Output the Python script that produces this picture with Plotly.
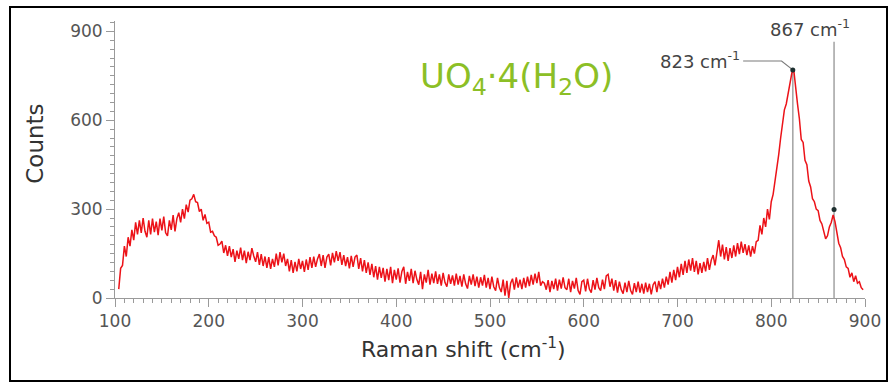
import numpy as np
import plotly.graph_objects as go

# Raman spectrum of UO4·4(H2O): wavenumber grid (cm-1) and counts
shift_start, shift_step = 104, 2
counts = [
    30, 100, 110, 175, 140, 205, 175, 230, 195, 255, 215, 262, 220, 270, 225, 205, 262, 215, 268, 222,
    258, 212, 268, 228, 275, 220, 210, 262, 230, 280, 225, 268, 288, 255, 300, 268, 315, 290, 330, 335,
    350, 325, 322, 292, 300, 262, 282, 252, 256, 222, 225, 210, 205, 178, 182, 192, 152, 178, 142, 175,
    138, 165, 122, 160, 132, 170, 128, 160, 118, 156, 128, 168, 142, 122, 155, 112, 148, 108, 140, 102,
    138, 98, 132, 105, 150, 110, 155, 120, 150, 108, 132, 90, 128, 85, 122, 90, 132, 98, 125, 88,
    130, 95, 138, 102, 140, 105, 132, 148, 108, 145, 102, 138, 148, 110, 152, 120, 158, 125, 155, 112,
    145, 108, 138, 100, 142, 105, 138, 145, 98, 135, 90, 128, 85, 120, 78, 115, 70, 108, 62, 105,
    68, 102, 55, 98, 60, 105, 50, 95, 62, 100, 52, 90, 105, 48, 88, 58, 98, 50, 92, 62,
    45, 88, 30, 80, 52, 95, 45, 82, 50, 90, 48, 80, 42, 85, 52, 38, 80, 48, 76, 42,
    82, 45, 75, 38, 80, 48, 32, 75, 45, 80, 40, 72, 35, 70, 42, 78, 35, 68, 30, 72,
    38, 25, 68, 35, 20, 62, 8, 58, 0, 50, 65, 28, 70, 35, 62, 30, 68, 35, 72, 40,
    78, 45, 82, 50, 88, 42, 55, 50, 28, 60, 20, 58, 30, 65, 25, 62, 32, 70, 35, 28,
    65, 20, 58, 32, 68, 25, 12, 55, 60, 22, 65, 30, 18, 60, 28, 68, 35, 25, 62, 30,
    75, 80, 38, 65, 25, 60, 18, 55, 28, 15, 52, 20, 58, 25, 12, 50, 20, 55, 18, 48,
    15, 52, 20, 48, 12, 45, 55, 20, 58, 30, 65, 35, 72, 45, 88, 52, 95, 60, 105, 70,
    115, 78, 125, 85, 130, 92, 135, 88, 125, 80, 118, 85, 122, 90, 135, 95, 128, 145, 110, 158,
    195, 140, 180, 130, 172, 125, 168, 135, 178, 140, 185, 148, 190, 152, 182, 145, 178, 140, 175, 150,
    190, 195, 245, 215, 270, 240, 300, 265, 325, 350, 395, 425, 485, 540, 595, 635, 655, 695, 735, 760,
    770, 705, 655, 605, 535, 525, 465, 450, 395, 375, 335, 325, 300, 295, 262, 250, 222, 200, 210, 240,
    255, 280, 258, 220, 185, 170, 140, 130, 105, 100, 70, 85, 55, 75, 50, 55, 35, 28,
]
shift = np.arange(len(counts)) * shift_step + shift_start

# Marked bands
peak_shift = [823, 867]
peak_counts = [770, 299]
peak_line_top = [770, 865]
peak_labels = ["823 cm<sup>-1</sup>", "867 cm<sup>-1</sup>"]

# Leader from the 823 label to its band maximum
leader_shift = [770, 811, 823]
leader_counts = [800, 800, 770]

x_ticks = [100, 200, 300, 400, 500, 600, 700, 800, 900]
y_ticks = [0, 300, 600, 900]

FONT = "DejaVu Sans"
AXIS_GREY = "#9a9a9a"

fig = go.Figure()

for px, top in zip(peak_shift, peak_line_top):
    fig.add_trace(go.Scatter(x=[px, px], y=[0, top], mode="lines",
                             line=dict(color="#a8a8a8", width=1.6),
                             hoverinfo="skip", showlegend=False))

fig.add_trace(go.Scatter(x=shift, y=counts, mode="lines",
                         line=dict(color="#ec1218", width=1.5),
                         showlegend=False))

fig.add_trace(go.Scatter(x=leader_shift, y=leader_counts, mode="lines",
                         line=dict(color="#7a7a7a", width=1.2),
                         hoverinfo="skip", showlegend=False))

fig.add_trace(go.Scatter(x=peak_shift, y=peak_counts, mode="markers",
                         marker=dict(color="#1d2f2f", size=5),
                         showlegend=False))

fig.update_xaxes(range=[100, 900], tickvals=x_ticks, showgrid=False, zeroline=False,
                 showline=True, linecolor=AXIS_GREY, linewidth=1,
                 ticks="outside", ticklen=8, tickcolor=AXIS_GREY,
                 minor=dict(dtick=10, ticks="outside", ticklen=4, tickcolor=AXIS_GREY),
                 tickfont=dict(family=FONT, size=17, color="#555555"))
fig.update_yaxes(range=[0, 935], tickvals=y_ticks, showgrid=False, zeroline=False,
                 showline=True, linecolor=AXIS_GREY, linewidth=1,
                 ticks="outside", ticklen=8, tickcolor=AXIS_GREY,
                 minor=dict(dtick=30, ticks="outside", ticklen=4, tickcolor=AXIS_GREY),
                 tickfont=dict(family=FONT, size=17, color="#555555"))

annotations = [
    dict(x=-0.107, y=0.556, xref="paper", yref="paper", text="Counts", textangle=-90,
         xanchor="center", yanchor="middle",
         showarrow=False, font=dict(family=FONT, size=23, color="#333333")),
    dict(x=0.464, y=-0.18, xref="paper", yref="paper", text="Raman shift (cm<sup>-1</sup>)",
         showarrow=False, xanchor="center", yanchor="middle",
         font=dict(family=FONT, size=22, color="#333333")),
    dict(x=528, y=742, xref="x", yref="y", text="UO<sub>4</sub>·4(H<sub>2</sub>O)",
         showarrow=False, font=dict(family=FONT, size=34, color="#8cbf26")),
    dict(x=769, y=805, xref="x", yref="y", text=peak_labels[0], xanchor="right",
         showarrow=False, font=dict(family=FONT, size=18, color="#444444")),
    dict(x=841, y=910, xref="x", yref="y", text=peak_labels[1],
         showarrow=False, font=dict(family=FONT, size=18, color="#444444")),
]

# Frame around the whole figure
L, T, W, H = 115, 21, 750, 277
def px_to_paper(xp, yp):
    return (xp - L) / W, (T + H - yp) / H
x0, y1 = px_to_paper(10, 7)
x1, y0 = px_to_paper(887, 381)

fig.update_layout(
    width=895, height=382,
    margin=dict(l=L, r=895 - L - W, t=T, b=382 - T - H),
    paper_bgcolor="white", plot_bgcolor="white",
    font=dict(family=FONT),
    annotations=annotations,
    shapes=[dict(type="rect", xref="paper", yref="paper", x0=x0, x1=x1, y0=y0, y1=y1,
                 line=dict(color="black", width=2))],
)

fig.write_html("out.html")
